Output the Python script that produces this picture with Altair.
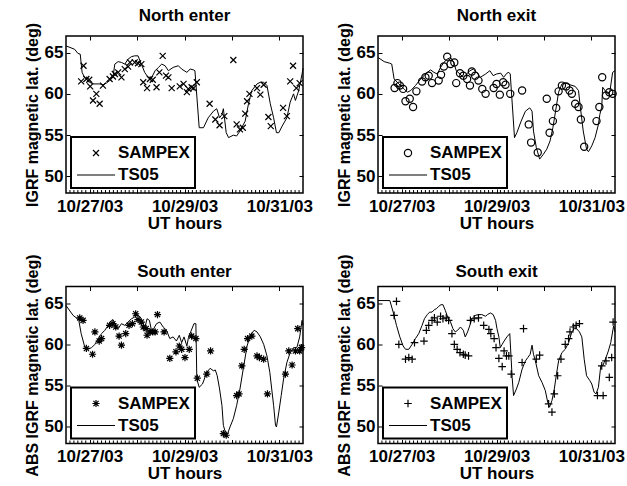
import altair as alt
import pandas as pd

FONT = "Liberation Sans"
W, H = 237, 157
X_DOMAIN = [26.5, 31.5]          # day of October 2003 (UT)
Y_DOMAIN = [48, 67]
DAY_TICKS = [27, 28, 29, 30, 31]
LAT_TICKS = [50, 55, 60, 65]
# two-hourly minor ticks along the time axis
MINOR_TICKS = [round(26.5 + k / 12, 4) for k in range(1, 60) if k % 12 != 6]

# ---------------- North enter ----------------
ne_model_day = [26.50, 26.68, 26.75, 26.80, 26.84, 26.89, 27.00, 27.07, 27.21, 27.28,
                27.35, 27.42, 27.49, 27.53, 27.60, 27.67, 27.74, 27.81, 27.88, 27.95,
                28.02, 28.06, 28.09, 28.16, 28.23, 28.31, 28.38, 28.45, 28.52, 28.59,
                28.66, 28.76, 28.87, 28.94, 29.05, 29.12, 29.19, 29.22, 29.31, 29.40,
                29.50, 29.61, 29.68, 29.74, 29.79, 29.82, 29.88, 29.93, 30.03, 30.10,
                30.17, 30.28, 30.35, 30.42, 30.53, 30.60, 30.67, 30.74, 30.81, 30.88,
                30.94, 30.99, 31.06, 31.16, 31.23, 31.30, 31.34, 31.41, 31.48, 31.50]
ne_model_lat = [65.8, 65.4, 64.9, 64.8, 62.6, 62.0, 61.4, 61.2, 61.2, 61.1,
                61.3, 61.6, 62.0, 63.6, 63.9, 63.8, 63.6, 64.2, 64.5, 64.6,
                64.6, 64.0, 63.6, 62.6, 62.0, 62.0, 62.8, 63.2, 63.6, 63.4,
                62.8, 63.2, 63.4, 63.0, 62.6, 63.0, 62.9, 62.8, 55.9, 55.9,
                57.1, 57.9, 58.2, 57.1, 57.5, 58.2, 55.3, 54.7, 55.0, 54.9,
                55.5, 56.7, 58.8, 60.4, 61.2, 61.4, 61.4, 61.0, 58.8, 57.1,
                55.3, 55.3, 56.1, 57.1, 59.0, 60.0, 59.2, 60.4, 62.4, 63.1]
ne_obs_day = [26.82, 26.87, 26.93, 26.99, 27.01, 27.07, 27.14, 27.21, 27.28, 27.42,
              27.49, 27.53, 27.60, 27.67, 27.74, 27.81, 27.85, 27.95, 28.02, 28.09,
              28.13, 28.21, 28.27, 28.33, 28.41, 28.47, 28.54, 28.61, 28.66, 28.73,
              28.90, 28.98, 29.05, 29.08, 29.15, 29.19, 29.26, 29.53, 29.65, 29.74,
              29.84, 30.03, 30.10, 30.17, 30.23, 30.28, 30.32, 30.37, 30.53, 30.60,
              30.67, 30.77, 30.82, 31.08, 31.16, 31.23, 31.29, 31.36, 31.43]
ne_obs_lat = [61.5, 63.4, 61.8, 61.7, 60.9, 59.2, 60.0, 58.8, 61.0, 61.8,
              62.1, 62.4, 62.6, 62.0, 63.0, 63.3, 63.8, 63.8, 63.7, 63.6,
              61.4, 60.7, 61.8, 61.7, 60.8, 62.6, 64.6, 62.2, 62.0, 60.7,
              60.9, 61.2, 60.2, 60.6, 60.8, 60.7, 61.4, 58.8, 56.9, 56.2,
              57.3, 64.1, 56.3, 55.7, 55.9, 57.6, 59.1, 60.0, 60.7, 59.9,
              61.1, 57.2, 56.1, 58.3, 57.3, 61.5, 63.4, 60.7, 61.3]

# ---------------- North exit ----------------
nx_model_day = [26.50, 26.63, 26.75, 26.79, 26.84, 26.94, 27.05, 27.12, 27.19, 27.29,
                27.40, 27.47, 27.54, 27.61, 27.68, 27.75, 27.82, 27.89, 27.96, 28.03,
                28.10, 28.15, 28.23, 28.30, 28.37, 28.44, 28.51, 28.58, 28.66, 28.77,
                28.86, 28.93, 29.00, 29.09, 29.15, 29.22, 29.26, 29.29, 29.38, 29.43,
                29.52, 29.61, 29.70, 29.75, 29.78, 29.84, 29.91, 29.99, 30.06, 30.13,
                30.19, 30.26, 30.31, 30.38, 30.45, 30.55, 30.66, 30.73, 30.76, 30.83,
                30.90, 30.94, 31.01, 31.08, 31.15, 31.18, 31.22, 31.24, 31.29, 31.34,
                31.39, 31.45, 31.50]
nx_model_lat = [64.4, 63.9, 63.7, 63.6, 61.8, 61.2, 60.6, 60.2, 60.4, 61.0,
                61.8, 62.2, 62.6, 62.9, 62.6, 62.4, 63.2, 63.8, 64.2, 64.4,
                63.8, 62.8, 62.4, 62.0, 62.4, 62.8, 63.0, 62.6, 62.0, 62.4,
                62.8, 62.2, 62.4, 62.5, 62.0, 62.5, 62.6, 62.4, 54.7, 55.3,
                56.7, 57.9, 58.3, 57.9, 55.5, 53.5, 52.1, 52.7, 53.3, 54.3,
                55.9, 58.4, 60.2, 61.2, 61.3, 61.1, 60.9, 60.4, 58.8, 55.5,
                53.3, 53.0, 53.7, 54.7, 56.3, 57.5, 58.4, 60.8, 60.4, 60.0,
                60.2, 62.6, 62.8]
nx_obs_day = [26.85, 26.91, 26.96, 27.03, 27.08, 27.17, 27.24, 27.31, 27.43, 27.50,
              27.57, 27.64, 27.78, 27.83, 27.89, 27.96, 28.03, 28.11, 28.15, 28.23,
              28.30, 28.38, 28.44, 28.48, 28.55, 28.62, 28.70, 28.77, 28.94, 29.00,
              29.07, 29.14, 29.19, 29.29, 29.54, 29.68, 29.73, 29.87, 30.06, 30.12,
              30.19, 30.26, 30.31, 30.38, 30.47, 30.54, 30.59, 30.66, 30.73, 30.78,
              30.85, 31.11, 31.17, 31.23, 31.31, 31.38, 31.45]
nx_obs_lat = [60.7, 61.3, 61.0, 60.6, 59.1, 59.4, 58.4, 60.3, 61.5, 62.0,
              62.2, 61.3, 61.6, 62.3, 63.3, 64.5, 63.6, 63.8, 61.3, 62.5,
              62.2, 61.8, 61.0, 62.7, 62.2, 61.6, 60.6, 60.0, 60.7, 61.2,
              59.9, 61.4, 61.1, 60.0, 60.4, 56.3, 54.1, 52.9, 59.4, 55.3,
              56.7, 58.3, 60.3, 61.0, 60.9, 60.4, 60.0, 58.8, 58.4, 56.9,
              53.6, 56.7, 58.4, 62.0, 59.8, 60.2, 60.0]

# ---------------- South enter ----------------
se_model_day = [26.50, 26.65, 26.72, 26.77, 26.82, 26.89, 26.96, 27.04, 27.11, 27.18,
                27.25, 27.32, 27.39, 27.46, 27.49, 27.55, 27.60, 27.67, 27.74, 27.81,
                27.88, 27.95, 28.00, 28.06, 28.11, 28.16, 28.21, 28.26, 28.31, 28.35,
                28.41, 28.48, 28.55, 28.62, 28.69, 28.76, 28.83, 28.89, 28.94, 28.99,
                29.05, 29.08, 29.13, 29.20, 29.24, 29.26, 29.31, 29.38, 29.47, 29.54,
                29.61, 29.65, 29.69, 29.74, 29.79, 29.82, 29.86, 29.91, 29.96, 30.03,
                30.10, 30.17, 30.25, 30.32, 30.39, 30.47, 30.53, 30.60, 30.67, 30.74,
                30.80, 30.84, 30.88, 30.92, 30.94, 30.99, 31.04, 31.09, 31.16, 31.23,
                31.30, 31.37, 31.43, 31.48, 31.50]
se_model_lat = [64.7, 63.5, 63.2, 62.9, 61.3, 59.8, 59.4, 59.6, 60.0, 60.7,
                61.3, 61.7, 62.3, 62.9, 63.0, 62.3, 61.9, 62.5, 62.3, 62.7,
                63.1, 63.3, 63.7, 63.3, 62.9, 61.9, 63.1, 62.9, 61.5, 61.9,
                62.5, 62.7, 62.1, 61.7, 60.7, 60.9, 60.4, 61.1, 60.2, 60.9,
                59.8, 60.7, 61.5, 62.5, 62.5, 55.8, 54.8, 55.2, 56.6, 57.1,
                56.8, 56.9, 56.2, 54.6, 52.6, 50.2, 49.4, 49.2, 50.0, 51.0,
                52.6, 54.6, 57.4, 59.8, 61.1, 61.7, 61.5, 60.9, 60.0, 58.6,
                56.6, 54.6, 52.6, 50.2, 50.0, 51.8, 53.8, 55.8, 57.8, 59.0,
                59.6, 59.6, 60.9, 62.9, 62.3]
se_obs_day = [26.79, 26.86, 26.93, 27.06, 27.11, 27.20, 27.25, 27.42, 27.49, 27.55,
              27.62, 27.67, 27.76, 27.83, 27.90, 27.97, 28.02, 28.09, 28.13, 28.19,
              28.21, 28.27, 28.33, 28.38, 28.43, 28.57, 28.69, 28.82, 28.89, 28.94,
              29.01, 29.10, 29.15, 29.24, 29.27, 29.47, 29.55, 29.82, 29.88, 30.10,
              30.15, 30.21, 30.26, 30.33, 30.42, 30.53, 30.58, 30.67, 30.75, 31.13,
              31.20, 31.27, 31.34, 31.39, 31.43, 31.47]
se_obs_lat = [63.2, 62.9, 59.5, 58.8, 61.5, 60.4, 60.7, 62.3, 62.5, 62.1,
              61.0, 59.9, 61.3, 62.3, 62.5, 63.7, 63.0, 62.7, 62.1, 61.9,
              61.1, 61.5, 61.5, 61.5, 63.6, 61.5, 58.3, 59.1, 59.8, 59.4,
              58.4, 59.4, 61.0, 60.7, 55.9, 56.4, 59.2, 49.2, 49.0, 53.8,
              54.0, 57.4, 59.4, 60.7, 61.0, 58.6, 58.4, 58.2, 54.0, 56.4,
              59.2, 57.5, 59.2, 61.9, 59.2, 59.6]

# ---------------- South exit ----------------
sx_model_day = [26.50, 26.75, 26.82, 26.89, 26.96, 27.03, 27.08, 27.15, 27.22, 27.29,
                27.36, 27.43, 27.48, 27.54, 27.59, 27.64, 27.69, 27.73, 27.78, 27.83,
                27.87, 27.92, 27.97, 28.03, 28.08, 28.13, 28.18, 28.24, 28.30, 28.34,
                28.39, 28.45, 28.48, 28.55, 28.62, 28.69, 28.77, 28.81, 28.87, 28.93,
                28.98, 29.01, 29.05, 29.08, 29.12, 29.16, 29.22, 29.28, 29.33, 29.36,
                29.42, 29.47, 29.54, 29.61, 29.66, 29.71, 29.75, 29.78, 29.82, 29.89,
                29.96, 30.03, 30.08, 30.12, 30.17, 30.22, 30.26, 30.31, 30.38, 30.45,
                30.52, 30.59, 30.64, 30.69, 30.75, 30.80, 30.85, 30.90, 30.97, 31.01,
                31.06, 31.10, 31.15, 31.20, 31.25, 31.31, 31.36, 31.41, 31.47, 31.50]
sx_model_lat = [65.3, 65.3, 63.9, 62.3, 60.9, 59.8, 59.4, 59.4, 60.0, 60.7,
                61.3, 62.3, 63.1, 63.6, 63.9, 63.9, 64.2, 64.3, 64.6, 64.8,
                64.8, 64.1, 63.3, 62.7, 61.9, 61.5, 61.7, 62.1, 61.7, 60.9,
                61.5, 62.5, 63.1, 63.5, 63.6, 63.6, 63.4, 63.6, 63.8, 63.6,
                62.9, 61.9, 60.9, 59.6, 60.0, 60.4, 60.9, 61.3, 56.0, 53.8,
                54.6, 55.4, 57.0, 58.0, 58.4, 58.8, 59.9, 58.8, 58.0, 56.2,
                55.4, 54.4, 53.0, 52.4, 53.2, 54.6, 56.2, 58.0, 59.0, 59.4,
                60.2, 61.5, 61.9, 61.9, 61.5, 60.9, 58.2, 56.2, 55.6, 55.2,
                54.2, 54.0, 54.8, 57.4, 57.5, 58.4, 59.2, 60.2, 62.2, 61.5]
sx_obs_day = [26.84, 26.89, 26.94, 27.08, 27.15, 27.22, 27.27, 27.47, 27.52, 27.57,
              27.64, 27.69, 27.75, 27.82, 27.87, 27.94, 27.99, 28.06, 28.11, 28.17,
              28.23, 28.30, 28.34, 28.41, 28.45, 28.53, 28.62, 28.73, 28.84, 28.88,
              28.95, 28.99, 29.05, 29.12, 29.16, 29.21, 29.26, 29.31, 29.54, 29.57,
              29.84, 29.91, 30.10, 30.17, 30.22, 30.29, 30.36, 30.45, 30.52, 30.55,
              30.62, 30.68, 30.75, 31.13, 31.22, 31.25, 31.31, 31.38, 31.43, 31.46]
sx_obs_lat = [63.5, 65.2, 60.0, 58.2, 58.4, 58.2, 60.2, 60.4, 61.7, 62.3,
              62.9, 63.2, 62.7, 63.4, 63.1, 63.2, 62.9, 61.3, 60.0, 59.4,
              59.0, 58.8, 58.7, 58.6, 62.9, 63.1, 63.2, 62.3, 61.8, 61.3,
              60.7, 59.6, 58.3, 57.3, 59.2, 58.6, 58.6, 56.4, 57.8, 61.9,
              58.2, 58.7, 52.8, 51.8, 54.0, 56.2, 58.2, 60.0, 60.7, 61.5,
              62.1, 62.3, 62.5, 53.8, 57.4, 53.8, 58.0, 56.0, 58.4, 62.7]

# Marker glyphs (unit-square SVG paths) and the legend key for the model line
X_MARK = "M-0.3,-0.3L0.3,0.3M-0.3,0.3L0.3,-0.3"
O_MARK = "M0.36,0A0.36,0.36 0 1,1 -0.36,0A0.36,0.36 0 1,1 0.36,0Z"
STAR_MARK = "M-0.36,0L0.36,0M0,-0.36L0,0.36M-0.26,-0.26L0.26,0.26M-0.26,0.26L0.26,-0.26"
PLUS_MARK = "M-0.38,0L0.38,0M0,-0.38L0,0.38"
LINE_KEY = "M-1.9,0L1.9,0"
SYMBOL_SIZE = 400

X_SCALE = alt.Scale(domain=X_DOMAIN, nice=False, zero=False)
Y_SCALE = alt.Scale(domain=Y_DOMAIN, nice=False, zero=False)

bottom_axis = alt.Axis(
    orient="bottom", values=DAY_TICKS, domain=False, grid=False,
    offset=-4, tickSize=4, tickWidth=1,
    labelExpr="datum.value % 2 == 1 ? '10/' + datum.value + '/03' : ''",
    labelFlush=False, labelOverlap=False, labelPadding=5, labelFontSize=17,
    title="UT hours", titleFontSize=17, titlePadding=1,
)
top_axis = alt.Axis(orient="top", values=DAY_TICKS, domain=False, grid=False,
                    offset=-4, tickSize=4, tickWidth=1, labels=False, title=None)
right_axis = alt.Axis(orient="right", values=LAT_TICKS, domain=False, grid=False,
                      offset=-4, tickSize=4, tickWidth=1, labels=False, title=None)


def left_axis(title):
    return alt.Axis(orient="left", values=LAT_TICKS, domain=False, grid=False,
                    offset=-4, tickSize=4, tickWidth=1, labelPadding=3,
                    labelFontSize=17, title=title, titleFontSize=16, titlePadding=4)


def panel(title, title_offset, ytitle, obs_day, obs_lat, mod_day, mod_lat, marker):
    obs = pd.DataFrame({"day": obs_day, "lat": obs_lat, "series": ["SAMPEX"] * len(obs_day)})
    mod = pd.DataFrame({"day": mod_day, "lat": mod_lat})
    minor = pd.DataFrame({"day": MINOR_TICKS})

    model_line = alt.Chart(mod).mark_line(color="black", strokeWidth=1).encode(
        x=alt.X("day:Q", scale=X_SCALE, axis=top_axis),
        y=alt.Y("lat:Q", scale=Y_SCALE, axis=right_axis),
    )
    points = alt.Chart(obs).mark_point(
        filled=False, color="black", strokeWidth=1.2, size=SYMBOL_SIZE, opacity=1
    ).encode(
        x=alt.X("day:Q", scale=X_SCALE, axis=bottom_axis),
        y=alt.Y("lat:Q", scale=Y_SCALE, axis=left_axis(ytitle)),
        shape=alt.Shape(
            "series:N",
            scale=alt.Scale(domain=["SAMPEX", "TS05"], range=[marker, LINE_KEY]),
            legend=alt.Legend(
                title=None, orient="bottom-left", offset=5, padding=5, rowPadding=3,
                labelFont=FONT, labelFontSize=17, labelFontWeight="bold", labelColor="black",
                labelOffset=11, symbolOffset=9, symbolSize=SYMBOL_SIZE,
                symbolStrokeColor="black", symbolStrokeWidth=1.2,
                strokeColor="black", fillColor="white",
            ),
        ),
    )
    minor_ticks = alt.Chart(minor).mark_rule(color="black", strokeWidth=1).encode(
        x=alt.X("day:Q", scale=X_SCALE, axis=None),
        y=alt.value(H - 3),
        y2=alt.value(H),
    )
    return (
        alt.layer(model_line, points, minor_ticks)
        .resolve_axis(x="independent", y="independent")
        .properties(
            width=W, height=H,
            title=alt.TitleParams(text=title, offset=title_offset, baseline="alphabetic",
                                  frame="group"),
        )
    )


ytop = "IGRF magnetic lat. (deg)"
ybot = "ABS IGRF magnetic lat. (deg)"

north_enter = panel("North enter", -15.5, ytop, ne_obs_day, ne_obs_lat, ne_model_day, ne_model_lat, X_MARK)
north_exit = panel("North exit", -15.5, ytop, nx_obs_day, nx_obs_lat, nx_model_day, nx_model_lat, O_MARK)
south_enter = panel("South enter", -40.5, ybot, se_obs_day, se_obs_lat, se_model_day, se_model_lat, STAR_MARK)
south_exit = panel("South exit", -40.5, ybot, sx_obs_day, sx_obs_lat, sx_model_day, sx_model_lat, PLUS_MARK)

top_row = (alt.hconcat(north_enter, north_exit, spacing=21)
           .resolve_scale(shape="independent").resolve_legend(shape="independent"))
bottom_row = (alt.hconcat(south_enter, south_exit, spacing=21)
              .resolve_scale(shape="independent").resolve_legend(shape="independent"))

chart = (
    alt.vconcat(top_row, bottom_row, spacing=20.5)
    .resolve_scale(shape="independent")
    .resolve_legend(shape="independent")
    .properties(padding={"left": 23, "top": 6, "right": 0, "bottom": 0}, background="white")
    .configure_view(stroke="black", strokeWidth=1.5)
    .configure_axis(labelFont=FONT, titleFont=FONT, labelFontWeight="bold", titleFontWeight="bold",
                    labelColor="black", titleColor="black", tickColor="black")
    .configure_title(font=FONT, fontSize=17, fontWeight="bold", color="black")
    .configure_legend(strokeWidth=2)
)

chart.save("out.html", embed_options={"renderer": "svg", "actions": False})
